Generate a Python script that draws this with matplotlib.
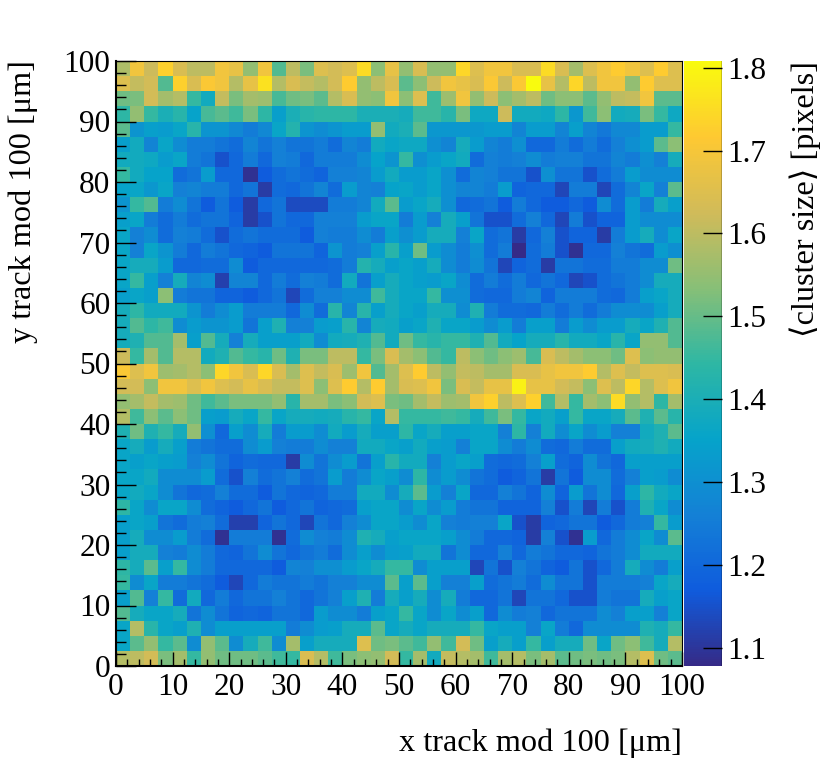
import numpy as np
import matplotlib
matplotlib.use("Agg")
import matplotlib.pyplot as plt
from matplotlib.colors import LinearSegmentedColormap

plt.rcParams['font.family'] = ['Liberation Serif', 'DejaVu Serif', 'DejaVu Sans']

# bin edges (2.5 um bins, 40 x 40)
x_edges = np.linspace(0, 100, 41)
y_edges = np.linspace(0, 100, 41)

# mean cluster size per bin, rows listed from the top (y = 97.5-100) down to y = 0-2.5
rows_top_down = [
    [1.58,1.69,1.62,1.73,1.64,1.60,1.60,1.69,1.67,1.55,1.69,1.48,1.60,1.52,1.65,1.63,1.65,1.75,1.54,1.67, 1.55,1.64,1.55,1.55,1.74,1.65,1.69,1.69,1.64,1.64,1.75,1.64,1.57,1.65,1.69,1.72,1.69,1.65,1.72,1.65],
    [1.65,1.61,1.63,1.48,1.73,1.64,1.71,1.69,1.59,1.67,1.76,1.59,1.64,1.61,1.59,1.63,1.72,1.55,1.60,1.64, 1.49,1.54,1.62,1.69,1.67,1.64,1.71,1.62,1.71,1.808,1.67,1.59,1.74,1.60,1.69,1.69,1.55,1.72,1.65,1.65],
    [1.51,1.52,1.63,1.57,1.59,1.45,1.38,1.61,1.52,1.57,1.56,1.47,1.51,1.52,1.49,1.59,1.64,1.55,1.54,1.69, 1.54,1.65,1.46,1.56,1.69,1.55,1.62,1.54,1.57,1.60,1.51,1.54,1.54,1.49,1.55,1.60,1.61,1.69,1.49,1.49],
    [1.44,1.55,1.45,1.40,1.43,1.35,1.47,1.49,1.46,1.52,1.44,1.34,1.40,1.43,1.44,1.44,1.44,1.40,1.40,1.40, 1.39,1.46,1.46,1.43,1.52,1.37,1.37,1.62,1.38,1.38,1.37,1.44,1.32,1.46,1.54,1.38,1.39,1.52,1.45,1.37],
    [1.49,1.31,1.34,1.33,1.36,1.43,1.31,1.31,1.28,1.25,1.28,1.36,1.42,1.31,1.29,1.31,1.33,1.33,1.55,1.38, 1.40,1.49,1.32,1.32,1.32,1.32,1.33,1.33,1.27,1.33,1.33,1.27,1.34,1.27,1.24,1.28,1.28,1.33,1.33,1.45],
    [1.34,1.38,1.27,1.36,1.29,1.25,1.25,1.23,1.21,1.27,1.23,1.26,1.23,1.23,1.25,1.21,1.27,1.25,1.38,1.36, 1.37,1.37,1.30,1.27,1.39,1.33,1.27,1.25,1.30,1.20,1.20,1.25,1.21,1.25,1.21,1.26,1.30,1.33,1.49,1.54],
    [1.38,1.38,1.37,1.33,1.36,1.25,1.23,1.15,1.20,1.25,1.20,1.26,1.25,1.20,1.25,1.25,1.25,1.29,1.35,1.31, 1.45,1.30,1.33,1.36,1.38,1.21,1.26,1.25,1.26,1.29,1.25,1.26,1.26,1.23,1.23,1.27,1.25,1.30,1.26,1.39],
    [1.45,1.38,1.35,1.35,1.21,1.23,1.33,1.20,1.20,1.09,1.17,1.21,1.23,1.21,1.19,1.26,1.26,1.27,1.33,1.38, 1.33,1.33,1.36,1.30,1.21,1.27,1.26,1.23,1.23,1.15,1.30,1.23,1.23,1.15,1.21,1.25,1.33,1.29,1.29,1.29],
    [1.35,1.36,1.32,1.36,1.26,1.27,1.25,1.25,1.20,1.23,1.11,1.21,1.20,1.23,1.27,1.21,1.33,1.27,1.26,1.35, 1.36,1.33,1.36,1.30,1.27,1.27,1.25,1.33,1.19,1.20,1.20,1.13,1.25,1.25,1.13,1.21,1.27,1.36,1.26,1.49],
    [1.31,1.45,1.48,1.25,1.29,1.23,1.17,1.23,1.17,1.11,1.20,1.23,1.14,1.14,1.14,1.25,1.25,1.27,1.38,1.49, 1.33,1.36,1.39,1.30,1.20,1.21,1.23,1.17,1.25,1.20,1.17,1.17,1.20,1.17,1.29,1.21,1.33,1.25,1.39,1.34],
    [1.34,1.36,1.25,1.21,1.25,1.21,1.23,1.23,1.19,1.11,1.15,1.23,1.20,1.20,1.26,1.26,1.26,1.33,1.36,1.36, 1.25,1.33,1.26,1.39,1.34,1.23,1.15,1.15,1.21,1.26,1.20,1.13,1.25,1.15,1.19,1.19,1.33,1.29,1.29,1.29],
    [1.36,1.26,1.29,1.21,1.26,1.25,1.21,1.15,1.21,1.23,1.21,1.21,1.21,1.17,1.26,1.25,1.25,1.29,1.25,1.34, 1.30,1.33,1.39,1.39,1.26,1.36,1.21,1.23,1.11,1.20,1.26,1.15,1.19,1.19,1.11,1.25,1.33,1.39,1.29,1.36],
    [1.36,1.26,1.36,1.31,1.25,1.20,1.25,1.23,1.20,1.19,1.17,1.23,1.23,1.23,1.19,1.31,1.25,1.26,1.34,1.43, 1.34,1.51,1.33,1.29,1.25,1.30,1.21,1.25,1.078,1.21,1.25,1.15,1.09,1.20,1.20,1.26,1.23,1.21,1.33,1.30],
    [1.36,1.39,1.39,1.33,1.20,1.20,1.21,1.21,1.29,1.17,1.20,1.20,1.20,1.20,1.20,1.21,1.25,1.42,1.39,1.34, 1.36,1.34,1.39,1.29,1.25,1.29,1.23,1.13,1.19,1.21,1.11,1.23,1.23,1.21,1.21,1.25,1.25,1.29,1.29,1.51],
    [1.36,1.45,1.34,1.26,1.39,1.27,1.29,1.12,1.27,1.27,1.20,1.25,1.21,1.26,1.25,1.21,1.38,1.23,1.34,1.39, 1.36,1.34,1.33,1.36,1.29,1.21,1.25,1.21,1.25,1.20,1.23,1.20,1.13,1.15,1.21,1.23,1.25,1.29,1.39,1.39],
    [1.34,1.36,1.34,1.54,1.25,1.23,1.23,1.19,1.19,1.17,1.20,1.23,1.13,1.21,1.26,1.26,1.29,1.29,1.46,1.39, 1.36,1.36,1.45,1.30,1.30,1.21,1.20,1.20,1.25,1.27,1.19,1.25,1.25,1.25,1.21,1.20,1.25,1.34,1.36,1.39],
    [1.39,1.44,1.38,1.38,1.38,1.31,1.25,1.29,1.33,1.25,1.25,1.25,1.20,1.29,1.21,1.43,1.27,1.43,1.34,1.39, 1.36,1.34,1.39,1.39,1.29,1.41,1.25,1.21,1.21,1.20,1.25,1.21,1.25,1.21,1.25,1.29,1.29,1.29,1.34,1.39],
    [1.39,1.48,1.44,1.46,1.29,1.33,1.31,1.31,1.33,1.23,1.34,1.41,1.26,1.26,1.33,1.34,1.43,1.27,1.39,1.38, 1.34,1.36,1.41,1.36,1.36,1.33,1.29,1.33,1.25,1.34,1.34,1.25,1.33,1.29,1.33,1.33,1.39,1.36,1.41,1.48],
    [1.39,1.41,1.48,1.48,1.57,1.34,1.48,1.39,1.26,1.39,1.34,1.34,1.34,1.38,1.29,1.38,1.39,1.41,1.48,1.38, 1.51,1.45,1.43,1.45,1.45,1.41,1.48,1.38,1.35,1.39,1.39,1.43,1.38,1.38,1.36,1.43,1.36,1.55,1.55,1.48],
    [1.62,1.45,1.57,1.48,1.59,1.59,1.38,1.41,1.48,1.45,1.43,1.51,1.41,1.52,1.52,1.60,1.60,1.45,1.52,1.64, 1.57,1.54,1.48,1.45,1.60,1.54,1.51,1.54,1.56,1.47,1.64,1.60,1.57,1.54,1.54,1.51,1.65,1.54,1.55,1.55],
    [1.71,1.65,1.69,1.56,1.57,1.59,1.54,1.74,1.69,1.64,1.74,1.64,1.57,1.65,1.61,1.64,1.56,1.69,1.48,1.57, 1.65,1.72,1.60,1.55,1.61,1.60,1.57,1.57,1.64,1.64,1.67,1.69,1.69,1.72,1.59,1.65,1.61,1.65,1.65,1.64],
    [1.63,1.63,1.54,1.69,1.69,1.65,1.69,1.65,1.63,1.67,1.64,1.61,1.61,1.65,1.54,1.65,1.72,1.59,1.72,1.57, 1.64,1.65,1.69,1.52,1.64,1.61,1.67,1.67,1.79,1.67,1.67,1.63,1.61,1.54,1.65,1.60,1.74,1.59,1.65,1.69],
    [1.55,1.57,1.61,1.57,1.56,1.51,1.46,1.49,1.52,1.52,1.52,1.55,1.43,1.57,1.57,1.52,1.54,1.63,1.65,1.52, 1.51,1.57,1.61,1.56,1.57,1.69,1.73,1.60,1.65,1.73,1.46,1.59,1.45,1.57,1.54,1.75,1.55,1.59,1.44,1.57],
    [1.59,1.46,1.54,1.49,1.54,1.51,1.34,1.33,1.39,1.36,1.45,1.36,1.39,1.39,1.38,1.39,1.43,1.45,1.36,1.59, 1.45,1.45,1.45,1.46,1.45,1.39,1.46,1.52,1.45,1.36,1.38,1.34,1.45,1.36,1.36,1.39,1.49,1.41,1.49,1.43],
    [1.41,1.51,1.41,1.45,1.39,1.55,1.30,1.20,1.34,1.29,1.39,1.25,1.33,1.33,1.29,1.38,1.33,1.39,1.34,1.34, 1.44,1.36,1.39,1.34,1.34,1.36,1.36,1.26,1.44,1.26,1.38,1.29,1.36,1.29,1.33,1.26,1.26,1.38,1.41,1.49],
    [1.36,1.39,1.33,1.39,1.34,1.25,1.23,1.21,1.21,1.29,1.33,1.26,1.25,1.25,1.29,1.26,1.26,1.38,1.38,1.36, 1.34,1.38,1.34,1.33,1.26,1.36,1.36,1.29,1.25,1.29,1.21,1.20,1.25,1.21,1.21,1.34,1.38,1.39,1.41,1.38],
    [1.36,1.34,1.36,1.34,1.33,1.26,1.29,1.23,1.19,1.21,1.20,1.20,1.11,1.29,1.23,1.29,1.33,1.23,1.34,1.43, 1.38,1.38,1.26,1.33,1.36,1.34,1.21,1.20,1.21,1.26,1.34,1.21,1.19,1.29,1.23,1.20,1.34,1.34,1.34,1.34],
    [1.36,1.36,1.38,1.29,1.29,1.29,1.33,1.21,1.15,1.26,1.21,1.23,1.26,1.21,1.23,1.33,1.25,1.29,1.36,1.34, 1.29,1.44,1.29,1.33,1.29,1.23,1.21,1.17,1.19,1.23,1.11,1.23,1.17,1.29,1.29,1.21,1.26,1.34,1.33,1.29],
    [1.36,1.38,1.36,1.29,1.23,1.20,1.21,1.26,1.21,1.21,1.17,1.23,1.20,1.19,1.20,1.25,1.25,1.38,1.38,1.29, 1.39,1.49,1.33,1.26,1.36,1.20,1.20,1.26,1.23,1.19,1.29,1.19,1.33,1.23,1.29,1.20,1.34,1.44,1.38,1.36],
    [1.44,1.36,1.29,1.36,1.36,1.29,1.21,1.19,1.17,1.20,1.23,1.17,1.20,1.23,1.19,1.20,1.21,1.34,1.36,1.36, 1.29,1.36,1.29,1.33,1.25,1.23,1.23,1.19,1.19,1.19,1.26,1.15,1.25,1.13,1.25,1.15,1.25,1.41,1.36,1.29],
    [1.34,1.36,1.34,1.23,1.21,1.25,1.26,1.21,1.12,1.12,1.19,1.23,1.20,1.13,1.23,1.20,1.26,1.29,1.36,1.36, 1.33,1.29,1.36,1.26,1.25,1.26,1.26,1.36,1.15,1.11,1.19,1.20,1.23,1.23,1.17,1.20,1.25,1.26,1.45,1.33],
    [1.34,1.39,1.29,1.29,1.33,1.25,1.21,1.09,1.25,1.25,1.25,1.09,1.21,1.29,1.26,1.25,1.29,1.41,1.39,1.34, 1.36,1.36,1.36,1.34,1.29,1.25,1.20,1.20,1.19,1.11,1.26,1.15,1.09,1.33,1.20,1.25,1.29,1.36,1.29,1.49],
    [1.34,1.39,1.39,1.26,1.25,1.29,1.25,1.20,1.19,1.23,1.29,1.23,1.20,1.23,1.25,1.21,1.29,1.34,1.29,1.33, 1.34,1.38,1.38,1.23,1.29,1.20,1.20,1.26,1.20,1.25,1.23,1.20,1.20,1.19,1.23,1.25,1.29,1.38,1.38,1.38],
    [1.44,1.39,1.49,1.34,1.45,1.29,1.25,1.20,1.20,1.20,1.20,1.17,1.27,1.26,1.30,1.30,1.33,1.36,1.39,1.45, 1.45,1.29,1.34,1.34,1.34,1.13,1.23,1.15,1.26,1.23,1.19,1.17,1.23,1.15,1.20,1.25,1.39,1.29,1.25,1.34],
    [1.45,1.29,1.36,1.25,1.25,1.23,1.21,1.17,1.13,1.20,1.25,1.23,1.23,1.25,1.23,1.26,1.26,1.29,1.29,1.49, 1.34,1.49,1.34,1.26,1.26,1.34,1.21,1.23,1.25,1.21,1.29,1.23,1.23,1.15,1.25,1.25,1.25,1.26,1.36,1.39],
    [1.34,1.48,1.26,1.45,1.21,1.38,1.20,1.25,1.20,1.23,1.23,1.26,1.23,1.20,1.23,1.26,1.34,1.41,1.25,1.39, 1.34,1.39,1.29,1.39,1.25,1.20,1.20,1.23,1.13,1.23,1.23,1.20,1.15,1.15,1.25,1.23,1.23,1.39,1.34,1.36],
    [1.48,1.39,1.36,1.36,1.39,1.23,1.29,1.23,1.19,1.20,1.19,1.23,1.23,1.20,1.33,1.29,1.29,1.25,1.34,1.36, 1.45,1.36,1.29,1.36,1.29,1.34,1.20,1.29,1.25,1.26,1.20,1.23,1.23,1.23,1.29,1.26,1.34,1.34,1.26,1.36],
    [1.36,1.59,1.43,1.36,1.34,1.41,1.29,1.34,1.34,1.34,1.34,1.34,1.25,1.29,1.33,1.34,1.39,1.39,1.49,1.36, 1.39,1.36,1.39,1.39,1.39,1.45,1.36,1.34,1.34,1.26,1.36,1.25,1.20,1.29,1.29,1.29,1.29,1.41,1.39,1.45],
    [1.36,1.49,1.55,1.45,1.49,1.29,1.55,1.49,1.29,1.39,1.46,1.29,1.57,1.34,1.39,1.39,1.39,1.65,1.51,1.52, 1.49,1.46,1.55,1.46,1.63,1.51,1.34,1.39,1.34,1.45,1.34,1.39,1.39,1.51,1.36,1.51,1.54,1.46,1.39,1.59],
    [1.59,1.60,1.63,1.52,1.57,1.45,1.55,1.51,1.51,1.51,1.49,1.46,1.45,1.64,1.59,1.46,1.52,1.54,1.55,1.63, 1.45,1.57,1.38,1.61,1.59,1.57,1.46,1.57,1.59,1.52,1.57,1.49,1.51,1.52,1.51,1.52,1.59,1.65,1.51,1.49],
]

z_ticks = [1.1, 1.2, 1.3, 1.4, 1.5, 1.6, 1.7, 1.8]

# ROOT kBird palette
bird_stops = [0.0, 0.125, 0.25, 0.375, 0.5, 0.625, 0.75, 0.875, 1.0]
bird_r = [0.2082, 0.0592, 0.0780, 0.0232, 0.1802, 0.5301, 0.8186, 0.9956, 0.9764]
bird_g = [0.1664, 0.3599, 0.5041, 0.6419, 0.7178, 0.7492, 0.7328, 0.7862, 0.9832]
bird_b = [0.5293, 0.8684, 0.8385, 0.7914, 0.6425, 0.4662, 0.3499, 0.1968, 0.0539]
bird = LinearSegmentedColormap.from_list(
    "kBird", list(zip(bird_stops, zip(bird_r, bird_g, bird_b))), N=255)

z = np.array(rows_top_down)[::-1]

fig = plt.figure(figsize=(8.3, 7.75), dpi=100)
W, H = 830, 775
ax = fig.add_axes([116 / W, 1 - 666 / H, (682 - 116) / W, (666 - 61) / H])
cax = fig.add_axes([684 / W, 1 - 666 / H, (722 - 684) / W, (666 - 61) / H])

mesh = ax.pcolormesh(x_edges, y_edges, z, cmap=bird, vmin=z.min(), vmax=z.max())
ax.set_xlim(0, 100)
ax.set_ylim(0, 100)

label_size = 22.5
title_size = 23.2

ax.set_xticks(np.arange(0, 101, 10))
ax.set_yticks(np.arange(0, 101, 10))
ax.set_xticks(np.arange(0, 101, 2), minor=True)
ax.set_yticks(np.arange(0, 101, 2), minor=True)
ax.tick_params(axis='both', which='both', direction='in', top=False, right=False,
               width=1.0, colors='black', labelsize=label_size)
ax.tick_params(axis='x', which='major', length=10, pad=5)
ax.tick_params(axis='x', which='minor', length=5)
ax.tick_params(axis='y', which='major', length=14.5, pad=4)
ax.tick_params(axis='y', which='minor', length=7)
for side in ['left', 'bottom']:
    ax.spines[side].set_linewidth(1.5)
for side in ['top', 'right']:
    ax.spines[side].set_linewidth(0.8)
ax.set_axisbelow(False)

cbar = fig.colorbar(mesh, cax=cax, ticks=z_ticks)
cbar.outline.set_visible(False)
cax.axvline(1.0, color='black', lw=1.0)
cax.tick_params(axis='y', which='major', direction='in', length=13.5, width=1.0,
                labelsize=label_size, pad=4)
cax.tick_params(axis='y', which='minor', length=0)
cax.set_yticklabels([f"{t:.1f}" for t in z_ticks])

fig.text(682 / W, 1 - 729 / H, "x track mod 100 [\u03bcm]", ha='right', va='top', fontsize=title_size)
fig.text(23 / W, 1 - 60 / H, "y track mod 100 [\u03bcm]", ha='center', va='top',
         rotation=90, fontsize=title_size)
fig.text(805 / W, 1 - 61 / H, "\u27e8cluster size\u27e9 [pixels]", ha='center', va='top',
         rotation=90, fontsize=title_size)

fig.savefig("out.png", dpi=100)
